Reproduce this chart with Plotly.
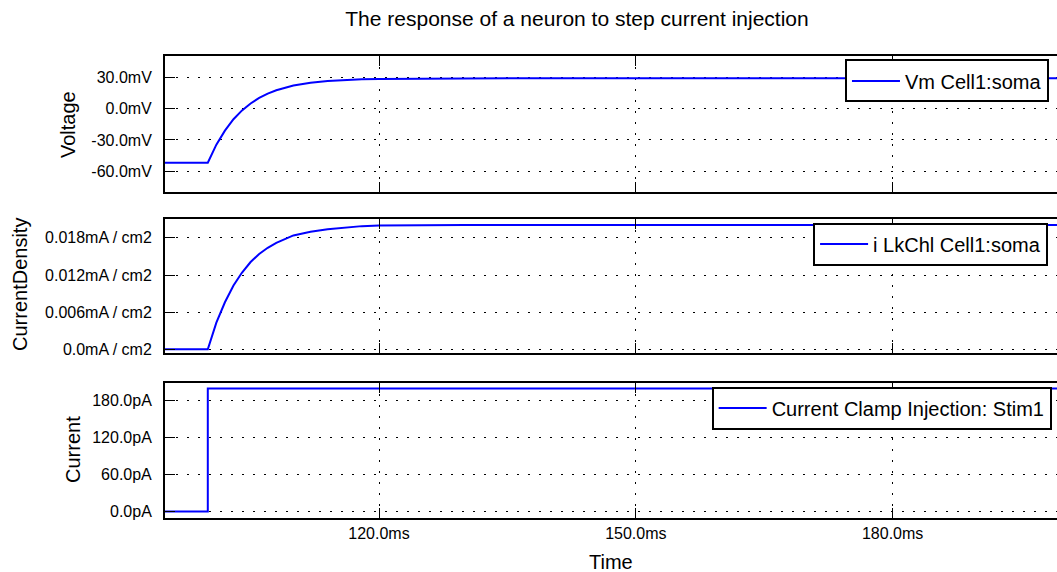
import plotly.graph_objects as go

# ---- data ----
time_ms = [95, 100, 101, 102, 103, 104, 105, 106, 107, 108, 110, 112, 114, 116, 118, 120, 125, 130, 140, 160, 200]
voltage_mV = [-52.0, -52.0, -34.5, -21.0, -10.0, -1.5, 5.2, 10.5, 14.7, 18.0, 22.5, 25.2, 26.9, 27.9, 28.5, 28.9, 29.3, 29.4, 29.5, 29.5, 29.5]
leak_mA_cm2 = [0.0, 0.0, 0.0043, 0.0076, 0.0103, 0.0124, 0.0141, 0.0154, 0.0164, 0.0172, 0.0184, 0.0190, 0.0194,
               0.0197, 0.0199, 0.0200, 0.0201, 0.0201, 0.0201, 0.0201, 0.0201]
stim_time_ms = [95, 100, 100, 200]
stim_pA = [0, 0, 200, 200]

x_tickvals = [120, 150, 180]
x_ticktext = ["120.0ms", "150.0ms", "180.0ms"]
v_tickvals = [-60, -30, 0, 30]
v_ticktext = ["-60.0mV", "-30.0mV", "0.0mV", "30.0mV"]
cd_tickvals = [0.0, 0.006, 0.012, 0.018]
cd_ticktext = ["0.0mA / cm2", "0.006mA / cm2", "0.012mA / cm2", "0.018mA / cm2"]
i_tickvals = [0, 60, 120, 180]
i_ticktext = ["0.0pA", "60.0pA", "120.0pA", "180.0pA"]

series_names = ["Vm Cell1:soma", "i LkChl Cell1:soma", "Current Clamp Injection: Stim1"]
y_titles = ["Voltage", "CurrentDensity", "Current"]
title_text = "The response of a neuron to step current injection"
x_title = "Time"

FONT = "Liberation Sans, Arial, Helvetica, sans-serif"
BLUE = "#0000ff"

fig = go.Figure()
fig.add_trace(go.Scatter(x=time_ms, y=voltage_mV, mode="lines", name=series_names[0],
                         line=dict(color=BLUE, width=2), xaxis="x", yaxis="y", legend="legend"))
fig.add_trace(go.Scatter(x=time_ms, y=leak_mA_cm2, mode="lines", name=series_names[1],
                         line=dict(color=BLUE, width=2), xaxis="x2", yaxis="y2", legend="legend2"))
fig.add_trace(go.Scatter(x=stim_time_ms, y=stim_pA, mode="lines", name=series_names[2],
                         line=dict(color=BLUE, width=2), xaxis="x3", yaxis="y3", legend="legend3"))

xr = [95, 199.2]
common_x = dict(range=xr, tickvals=x_tickvals, ticktext=x_ticktext, showgrid=True, gridcolor="black",
                gridwidth=1, griddash="2px,9px", zeroline=False, showline=True, linecolor="black",
                linewidth=2, mirror="ticks", ticks="inside", ticklen=10, tickwidth=1, tickcolor="black",
                tickfont=dict(family=FONT, size=16, color="black"))
common_y = dict(showgrid=True, gridcolor="black", gridwidth=1, griddash="2px,9px", zeroline=False,
                showline=True, linecolor="black", linewidth=2, mirror=False, ticks="inside", ticklen=10,
                tickwidth=1, tickcolor="black", ticklabelstandoff=8,
                tickfont=dict(family=FONT, size=16, color="black"))

legend_common = dict(bgcolor="white", bordercolor="black", borderwidth=2, xanchor="right", yanchor="middle",
                     font=dict(family=FONT, size=20, color="black"), itemwidth=48,
                     itemclick=False, itemdoubleclick=False)

fig.update_layout(
    width=1057, height=572,
    margin=dict(l=165, r=0, t=56, b=54),
    paper_bgcolor="white", plot_bgcolor="white",
    font=dict(family=FONT, color="black"),
    showlegend=True,
    title=dict(text=title_text, x=577 / 1057, xanchor="center", y=1 - 19 / 572, yanchor="middle",
               font=dict(family=FONT, size=21, color="black")),
    xaxis=dict(common_x, domain=[0, 1], anchor="y", matches="x3", showticklabels=False),
    xaxis2=dict(common_x, domain=[0, 1], anchor="y2", matches="x3", showticklabels=False),
    xaxis3=dict(common_x, domain=[0, 1], anchor="y3"),
    yaxis=dict(common_y, domain=[0.705, 1.0], range=[-80.5, 51], tickvals=v_tickvals, ticktext=v_ticktext),
    yaxis2=dict(common_y, domain=[0.3565, 0.6465], range=[-0.00065, 0.0210], tickvals=cd_tickvals,
                ticktext=cd_ticktext),
    yaxis3=dict(common_y, domain=[0, 0.2929], range=[-10.4, 209.3], tickvals=i_tickvals, ticktext=i_ticktext),
    legend=dict(legend_common, x=0.991, y=0.946),
    legend2=dict(legend_common, x=0.990, y=0.593),
    legend3=dict(legend_common, x=0.994, y=0.238),
)

# axis titles
ann_pos = [(68, 125), (20, 285), (73, 450)]
for txt, (px, py) in zip(y_titles, ann_pos):
    fig.add_annotation(text=txt, xref="paper", yref="paper", x=(px - 165) / 892, y=(518 - py) / 462,
                       xanchor="center", yanchor="middle", textangle=-90, showarrow=False,
                       font=dict(family=FONT, size=20, color="black"))
fig.add_annotation(text=x_title, xref="paper", yref="paper", x=(611 - 165) / 892, y=(518 - 562) / 462,
                   xanchor="center", yanchor="middle", showarrow=False,
                   font=dict(family=FONT, size=20, color="black"))

fig.write_html("out.html", config=dict(displayModeBar=False))
